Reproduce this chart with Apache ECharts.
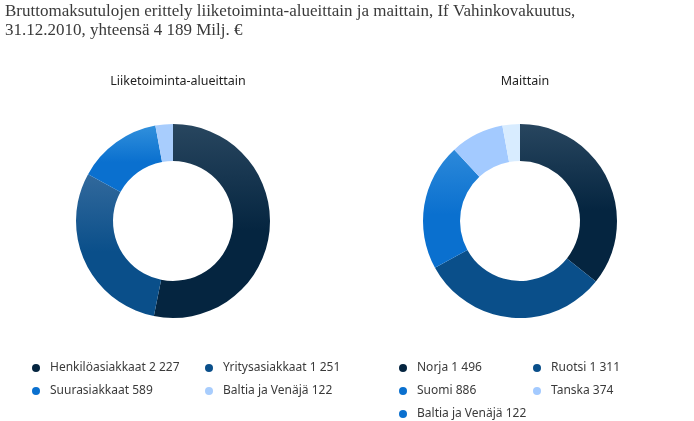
<!DOCTYPE html>
<html>
<head>
<meta charset="utf-8">
<script src="https://cdn.jsdelivr.net/npm/echarts@6/dist/echarts.min.js"></script>
<style>
  html, body { margin: 0; padding: 0; background: #fff; }
  #chart { width: 694px; height: 421px; }
</style>
</head>
<body>
<div id="chart"></div>
<script>
// Liiketoiminta-alueittain
const areaNames = ['Henkilöasiakkaat 2 227', 'Yritysasiakkaat 1 251', 'Suurasiakkaat 589', 'Baltia ja Venäjä 122']
const areaValues = [2227, 1251, 589, 122]
// Maittain
const countryNames = ['Norja 1 496', 'Ruotsi 1 311', 'Suomi 886', 'Tanska 374', 'Baltia ja Venäjä 122']
const countryValues = [1496, 1311, 886, 374, 122]

// [lighter top, base]
const areaColors = [['#28465f', '#052540'], ['#32699c', '#0a4f8a'], ['#3190dc', '#0a70cf'], ['#a8cdfd', '#a8cdfd']]
const countryColors = [['#28465f', '#052540'], ['#0a4f8a', '#0a4f8a'], ['#2c89da', '#0a70cf'], ['#a3caff', '#a3caff'], ['#d8ecff', '#d8ecff']]
// legend dot colours (the last one on the right is drawn darker than its slice)
const countryDots = ['#052540', '#0a4f8a', '#0a70cf', '#a3caff', '#0a70cf']

// legend slots [left, top]
const areaSlots = [[27, 357], [200, 357], [27, 380], [200, 380]]
const countrySlots = [[394, 357], [528, 357], [394, 380], [528, 380], [394, 403]]

const grad = c => new echarts.graphic.LinearGradient(0, 0, 0, 1, [
   { offset: 0, color: c[0] },
   { offset: 0.55, color: c[1] },
   { offset: 1, color: c[1] }
])

const font = '"Noto Sans", sans-serif'
const textCol = '#3a3a3a'

const chart = echarts.init(document.getElementById('chart'))

const makeLegend = (name, color, pos) => ({
   left: pos[0],
   top: pos[1],
   icon: 'circle',
   itemWidth: 18,
   itemHeight: 8,
   selectedMode: false,
   textStyle: { fontFamily: font, fontSize: 12, color: textCol },
   data: [{ name, itemStyle: { color } }]
})

const option = {
   animation: false,
   title: [
      {
         text: 'Bruttomaksutulojen erittely liiketoiminta-alueittain ja maittain, If Vahinkovakuutus,\n31.12.2010, yhteensä 4 189 Milj. €',
         left: 0,
         top: -3,
         textStyle: { fontFamily: '"Liberation Serif", serif', fontSize: 17, fontWeight: 'normal', color: '#3a3a3a', lineHeight: 19 }
      },
      {
         text: 'Liiketoiminta-alueittain',
         left: 173,
         top: 70,
         textAlign: 'center',
         textStyle: { fontFamily: font, fontSize: 12.5, fontWeight: 'normal', color: '#222' }
      },
      {
         text: 'Maittain',
         left: 520,
         top: 70,
         textAlign: 'center',
         textStyle: { fontFamily: font, fontSize: 12.5, fontWeight: 'normal', color: '#222' }
      }
   ],
   legend: [
      ...areaNames.map((n, i) => makeLegend(n, areaColors[i][1], areaSlots[i])),
      ...countryNames.map((n, i) => makeLegend(n, countryDots[i], countrySlots[i]))
   ],
   series: [
      {
         type: 'pie',
         center: [173, 221],
         radius: [60, 97],
         startAngle: 90,
         clockwise: true,
         label: { show: false },
         labelLine: { show: false },
         emphasis: { disabled: true },
         data: areaNames.map((n, i) => ({ name: n, value: areaValues[i], itemStyle: { color: grad(areaColors[i]) } }))
      },
      {
         type: 'pie',
         center: [520, 221],
         radius: [60, 97],
         startAngle: 90,
         clockwise: true,
         label: { show: false },
         labelLine: { show: false },
         emphasis: { disabled: true },
         data: countryNames.map((n, i) => ({ name: n, value: countryValues[i], itemStyle: { color: grad(countryColors[i]) } }))
      }
   ]
}

chart.setOption(option)
</script>
</body>
</html>
